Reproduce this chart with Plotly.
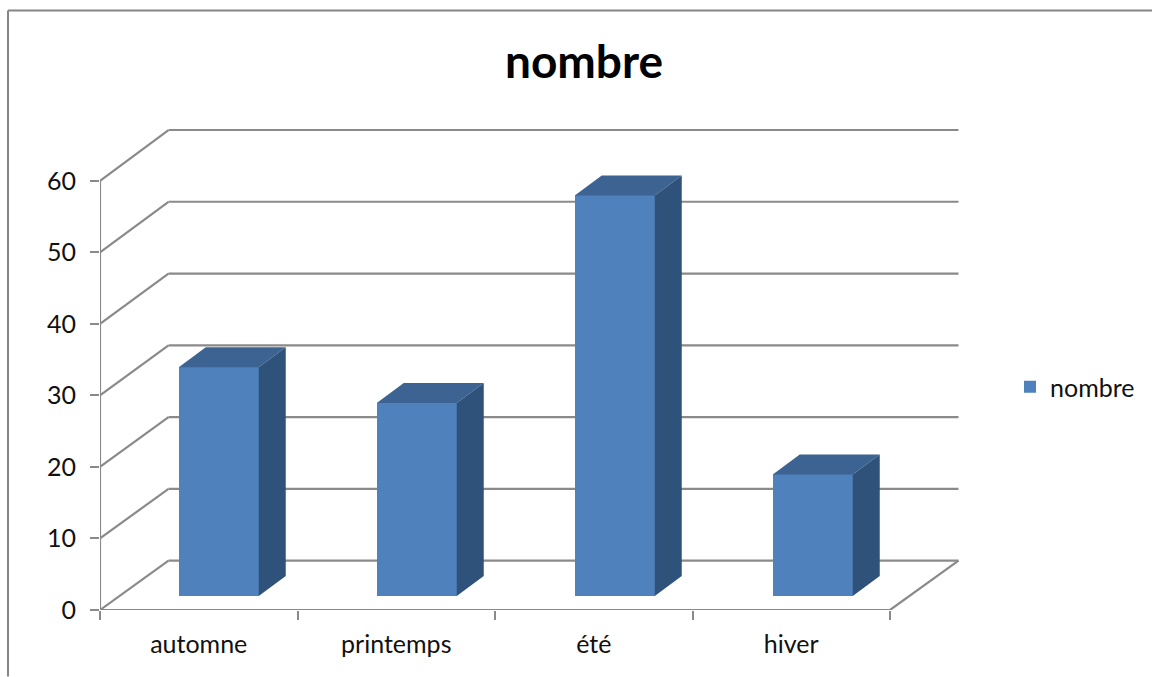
import plotly.graph_objects as go

categories = ["automne", "printemps", "été", "hiver"]
values = [32, 27, 56, 17]
y_ticks = [0, 10, 20, 30, 40, 50, 60]
series_name = "nombre"

FONT = "Lato, Carlito, Calibri, sans-serif"
FRONT = "#4F81BD"
TOP = "#3C6391"
SIDE = "#2F527A"
GRID = "#8A8A8A"

X_UNIT = 197.5
Y_UNIT = 7.16

# Oblique projection expressed in axis units: depth adds to x and y together.
WALL_DX = 68.5 / X_UNIT
WALL_DY = 49.5 / Y_UNIT
WALL_SCALE = 71.83 / (10 * Y_UNIT)
BAR_NEAR_DX = 20 / X_UNIT
BAR_NEAR_DY = 14 / Y_UNIT
BAR_DEPTH_DX = 27 / X_UNIT
BAR_DEPTH_DY = 20 / Y_UNIT
BAR_WIDTH = 80 / X_UNIT
BAR_PITCH = 198 / X_UNIT

n = len(categories)
fig = go.Figure()

# Front faces of the columns
centers = [0.5 + BAR_NEAR_DX + i * BAR_PITCH for i in range(n)]
fig.add_trace(go.Bar(
    x=centers, y=values, base=[BAR_NEAR_DY] * n, width=BAR_WIDTH,
    name=series_name, marker=dict(color=FRONT, line=dict(width=0)),
    showlegend=True, hoverinfo="skip",
))

# Top and side faces derived from each value
for c, v in zip(centers, values):
    x0, x1 = c - BAR_WIDTH / 2, c + BAR_WIDTH / 2
    y0, y1 = BAR_NEAR_DY, BAR_NEAR_DY + v
    fig.add_trace(go.Scatter(
        x=[x0, x1, x1 + BAR_DEPTH_DX, x0 + BAR_DEPTH_DX, x0],
        y=[y1, y1, y1 + BAR_DEPTH_DY, y1 + BAR_DEPTH_DY, y1],
        fill="toself", fillcolor=TOP, mode="lines", line=dict(width=0),
        showlegend=False, hoverinfo="skip",
    ))
    fig.add_trace(go.Scatter(
        x=[x1, x1 + BAR_DEPTH_DX, x1 + BAR_DEPTH_DX, x1, x1],
        y=[y1, y1 + BAR_DEPTH_DY, y0 + BAR_DEPTH_DY, y0, y1],
        fill="toself", fillcolor=SIDE, mode="lines", line=dict(width=0),
        showlegend=False, hoverinfo="skip",
    ))

# Gridlines folded across the side wall and the back wall
shapes = []
line = dict(color=GRID, width=2.2)
for t in y_ticks:
    back = t * WALL_SCALE + WALL_DY
    shapes.append(dict(type="line", xref="x", yref="y", layer="below", line=line,
                       x0=0, y0=t, x1=WALL_DX, y1=back))
    shapes.append(dict(type="line", xref="x", yref="y", layer="below", line=line,
                       x0=WALL_DX, y0=back, x1=n + WALL_DX, y1=back))
# Axis lines and the open edge of the floor
shapes += [
    dict(type="line", xref="x", yref="y", layer="below", line=line,
         x0=0, y0=0, x1=0, y1=y_ticks[-1]),
    dict(type="line", xref="x", yref="y", layer="below", line=line,
         x0=0, y0=0, x1=n, y1=0),
    dict(type="line", xref="x", yref="y", layer="below", line=line,
         x0=n, y0=0, x1=n + WALL_DX, y1=WALL_DY),
]

# Chart area frame, open on the right and at the bottom
W, H = 1152, 677
L, R, T, B = 100, 192, 129, 66.5
pw, ph = W - L - R, H - T - B
px = lambda v: (v - L) / pw
py = lambda v: (H - B - v) / ph
frame = dict(color="#868686", width=2)
shapes += [
    dict(type="line", xref="paper", yref="paper", line=frame,
         x0=px(8), y0=py(10.5), x1=px(W), y1=py(10.5)),
    dict(type="line", xref="paper", yref="paper", line=frame,
         x0=px(8), y0=py(10.5), x1=px(8), y1=py(H)),
]

fig.update_layout(
    width=W, height=H,
    margin=dict(l=L, r=R, t=T, b=B, autoexpand=False),
    paper_bgcolor="white", plot_bgcolor="rgba(0,0,0,0)",
    font=dict(family=FONT, size=25, color="#111111"),
    title=dict(text=f"<b>{series_name}</b>", x=584 / W, xanchor="center",
               y=1 - 62 / H, yanchor="middle",
               font=dict(size=46, family=FONT, color="black")),
    shapes=shapes,
    showlegend=True,
    legend=dict(x=1010 / W, xref="container", y=1 - 387 / H, yref="container",
                xanchor="left", yanchor="middle", bgcolor="rgba(0,0,0,0)",
                font=dict(size=25), itemwidth=30, tracegroupgap=0),
    bargap=0,
)
fig.update_xaxes(
    range=[0, pw / X_UNIT], showgrid=False, zeroline=False, showline=False,
    tickmode="array", tickvals=[i + 0.5 for i in range(n)], ticktext=categories,
    ticks="", ticklabelstandoff=17, fixedrange=True,
    minor=dict(tickmode="array", tickvals=list(range(n + 1)), ticks="outside",
               ticklen=9, tickwidth=2, tickcolor=GRID, showgrid=False),
)
fig.update_yaxes(
    range=[0, ph / Y_UNIT], showgrid=False, zeroline=False, showline=False,
    tickmode="array", tickvals=y_ticks, ticks="outside", ticklen=9,
    tickwidth=2, tickcolor=GRID, ticklabelstandoff=9, fixedrange=True,
)

fig.write_html("out.html", config=dict(displayModeBar=False))
